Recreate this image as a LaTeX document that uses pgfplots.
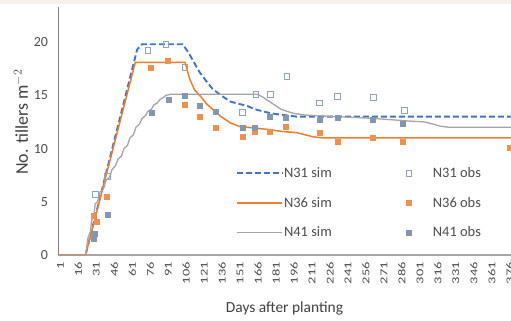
\documentclass[border=0pt]{standalone}
\usepackage{fontspec}
\setmainfont{Carlito}
\newfontfamily\xtickfont{Carlito}[FakeStretch=1.38]
\usepackage{pgfplots}
\pgfplotsset{compat=1.18}
\definecolor{cblue}{HTML}{4472C4}
\definecolor{corange}{HTML}{ED7D31}
\definecolor{cgray}{HTML}{A5A5A5}
\definecolor{cobs}{HTML}{8497B0}
\definecolor{csq}{HTML}{8FA3BF}
\definecolor{cpink}{HTML}{F9EEEA}
\begin{document}
\begin{tikzpicture}
\begin{axis}[
  width=453bp, height=248bp, scale only axis,
  xmin=-1, xmax=377, ymin=0, ymax=23.3,
  axis x line=bottom, axis y line=left,
  axis line style={-},
  x axis line style={line width=1.6bp, color=black!35},
  y axis line style={line width=0.9bp, color=black!50},
  xtick={1,16,...,376},
  ytick={0,5,10,15,20},
  major tick length=0pt,
  xticklabel shift=6bp,
  x tick label style={rotate=90, anchor=east, font=\xtickfont\fontsize{10.5}{11}\selectfont, text=black!70, inner sep=1bp},
  y tick label style={font=\fontsize{14}{16}\selectfont, text=black!70, xshift=-6.5bp},
  /pgf/number format/assume math mode=true,
  xlabel={Days after planting},
  xlabel style={at={(axis description cs:0.5,-0.2137)}, anchor=center, font=\fontsize{15.5}{17}\selectfont, text=black!75},
  ylabel={No. tillers m$^{-2}$},
  ylabel style={at={(axis description cs:-0.0817,0.536)}, rotate=0, anchor=center, font=\fontsize{18}{20}\selectfont, text=black!75},
  clip=false,
  legend columns=2,
  legend cell align=left,
  legend image code/.code={\path[draw=none,fill=none] (0cm,0cm) -- (1.59cm,0cm);\draw[mark repeat=2,mark phase=2,#1] plot coordinates {(0cm,0cm)(0.8cm,0cm)(1.59cm,0cm)};},
  legend style={at={(axis description cs:0.385,0.367)}, anchor=north west, draw=none, fill=none,
    font=\fontsize{14.5}{16}\selectfont, text=black!70, row sep=15bp,
    nodes={inner sep=1.5bp},
    /tikz/every even column/.append style={column sep=53bp}},
]
% N31 sim
\addplot[cblue, line width=1.9bp, dash pattern=on 6bp off 3bp]
  coordinates {(1,0)(22,0)(65,19.3)(69,19.8)(103,19.8)(108,19.0)(112,18.2)(117,17.2)(123,16.3)(128,15.6)(135,15.0)(143,14.4)(150,14.2)(157,14.0)(163,13.7)(170,13.5)(177,13.3)(184,13.2)(191,13.1)(198,13.0)(377,13.0)};
\addlegendentry{N31 sim}
% N31 obs
\addplot[only marks, mark=square, mark size=2.8bp, mark options={draw=csq, line width=0.8bp, fill=white}]
  coordinates {(30,5.7)(40,7.4)(74,19.2)(89,19.8)(105,17.6)(153,13.4)(164,15.1)(176,15.1)(190,16.8)(217,14.3)(232,14.9)(262,14.8)(288,13.6)};
\addlegendentry{N31 obs}
% N36 sim
\addplot[corange, line width=1.5bp]
  coordinates {(1,0)(22,0)(63.5,18.1)(105,18.1)(109,16.5)(113,15.5)(118,14.9)(123,14.2)(128,13.7)(135,13.0)(143,12.4)(150,12.1)(157,12.0)(165,11.9)(174,11.8)(186,11.6)(198,11.5)(205,11.3)(212,11.1)(220,11.0)(377,11.0)};
\addlegendentry{N36 sim}
% N36 obs
\addplot[only marks, mark=square*, mark size=2.5bp, mark options={draw=corange!85, fill=corange!85}]
  coordinates {(29,3.7)(31,3.1)(40,5.5)(76,17.6)(90.5,18.3)(105,14.1)(117.5,13.0)(131,12.0)(153.5,11.1)(163.5,11.6)(176,11.6)(189,12.1)(217,11.5)(232,10.6)(261.6,11.0)(287,10.6)(376,10.1)};
\addlegendentry{N36 obs}
% N41 sim
\addplot[cgray, line width=1.3bp]
  coordinates {(1,0)(22,0)(23,0.8)(24,1.6)(26,2.2)(27,3.2)(29,3.8)(30,4.8)(32,5.0)(34,5.9)(37,6.2)(39,7.0)(42,7.3)(44,8.0)(47,8.4)(49,9.0)(52,9.3)(54,10.0)(57,10.3)(59,11.0)(62,11.3)(64,12.0)(67,12.3)(69,12.8)(72,13.1)(74,13.5)(77,13.7)(79,14.1)(82,14.3)(84,14.6)(87,14.8)(89,15.0)(93,15.1)(165,15.1)(169,14.9)(173,14.6)(177,14.3)(181,14.0)(185,13.7)(190,13.5)(196,13.3)(205,13.15)(230,13.0)(260,12.85)(290,12.6)(305,12.5)(312,12.3)(318,12.1)(325,12.0)(377,12.0)};
\addlegendentry{N41 sim}
% N41 obs
\addplot[only marks, mark=square*, mark size=2.5bp, mark options={draw=cobs, fill=cobs}]
  coordinates {(28.5,1.5)(30,2.0)(40.5,3.8)(77,13.4)(91,14.6)(105,15.0)(117.5,14.0)(131,13.5)(153.5,12.0)(163.5,12.0)(176,13.0)(189,12.9)(217,12.7)(232,12.9)(261.6,12.7)(287,12.3)};
\addlegendentry{N41 obs}
\end{axis}
\coordinate (BL) at ([xshift=-58bp,yshift=-66bp]current axis.south west);
\coordinate (TR) at ([yshift=7bp]current axis.north east);
\pgfresetboundingbox
\path[use as bounding box] (BL) rectangle (TR);
\fill[cpink] (BL |- TR) rectangle ([yshift=-4.5bp]TR);
\end{tikzpicture}
\end{document}
